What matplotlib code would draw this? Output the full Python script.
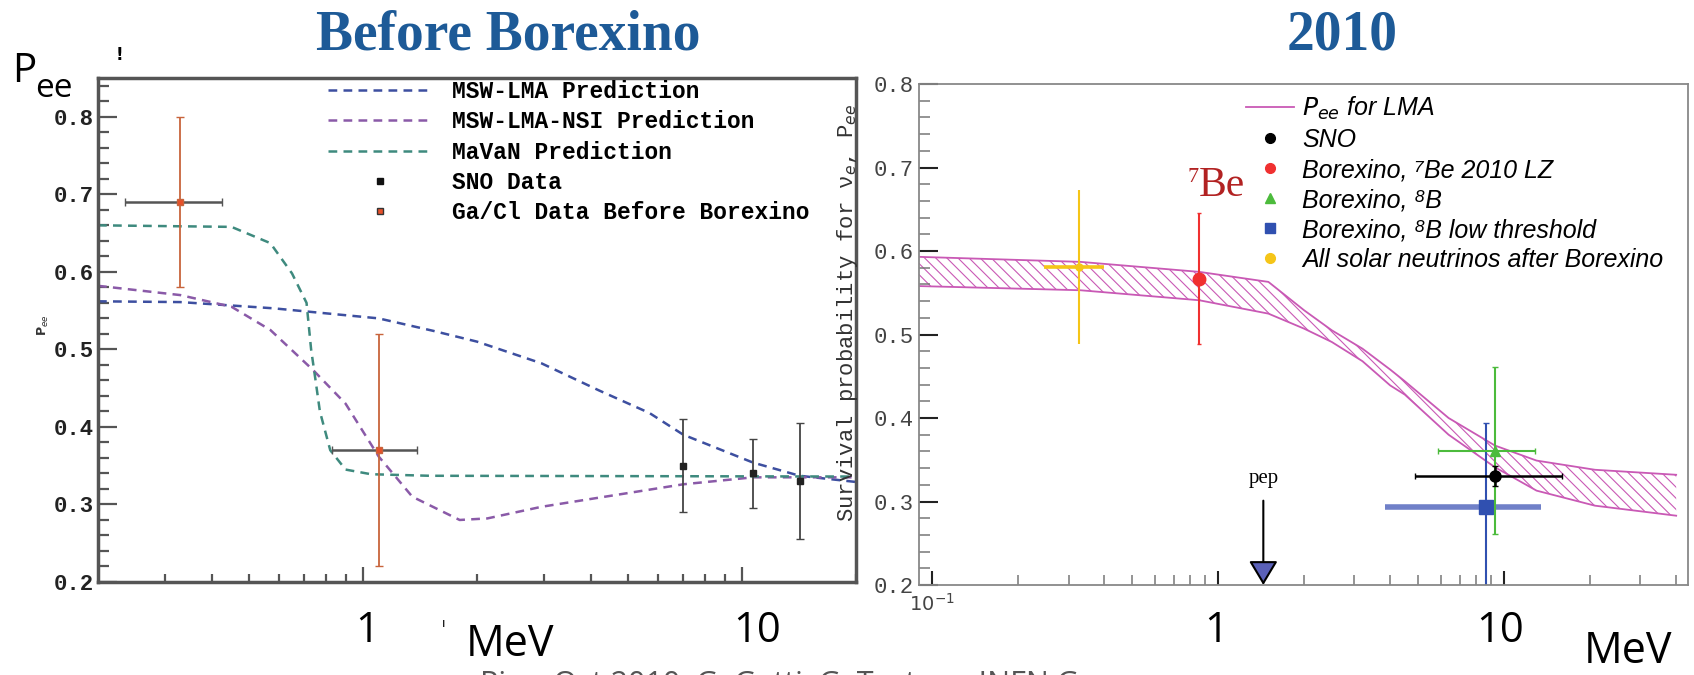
import matplotlib.pyplot as plt
from matplotlib.lines import Line2D
from matplotlib.ticker import FixedLocator, NullFormatter, FixedFormatter

plt.rcParams['hatch.linewidth'] = 0.8
plt.rcParams['hatch.color'] = '#c959b5'

W, H = 1694, 675

# ---- left panel: predictions before Borexino
lma_e = [0.2, 0.33, 0.58, 1.1, 1.53, 2.0, 2.96, 4.2, 5.7, 7.0, 10.7, 14.2, 20]
lma_p = [0.562, 0.561, 0.553, 0.54, 0.524, 0.51, 0.482, 0.447, 0.418, 0.39, 0.354, 0.337, 0.329]
nsi_e = [0.2, 0.33, 0.45, 0.57, 0.74, 0.9, 1.1, 1.35, 1.8, 2.13, 2.96, 4.1, 7.0, 10.7, 20]
nsi_p = [0.582, 0.57, 0.555, 0.525, 0.473, 0.43, 0.362, 0.31, 0.28, 0.282, 0.297, 0.308, 0.326, 0.335, 0.335]
mavan_e = [0.2, 0.45, 0.57, 0.65, 0.71, 0.73, 0.75, 0.77, 0.82, 0.9, 1.05, 1.5, 20]
mavan_p = [0.66, 0.658, 0.637, 0.598, 0.56, 0.5, 0.46, 0.42, 0.37, 0.345, 0.339, 0.337, 0.336]

gacl_e = [0.33, 1.1]
gacl_p = [0.69, 0.37]
gacl_dp = [0.11, 0.15]
gacl_de_lo = [0.095, 0.27]
gacl_de_hi = [0.095, 0.29]

sno_e = [7.0, 10.7, 14.2]
sno_p = [0.35, 0.34, 0.33]
sno_dp_lo = [0.06, 0.045, 0.075]
sno_dp_hi = [0.06, 0.045, 0.075]

left_labels = ['MSW-LMA Prediction', 'MSW-LMA-NSI Prediction', 'MaVaN Prediction',
               'SNO Data', 'Ga/Cl Data Before Borexino']

# ---- right panel: 2010
band_e = [0.09, 0.33, 0.86, 1.5, 2.0, 2.5, 3.2, 4.0, 4.5, 6.4, 9.3, 13, 20.8, 40]
band_hi = [0.593, 0.587, 0.575, 0.563, 0.529, 0.505, 0.483, 0.458, 0.444, 0.40, 0.367, 0.349, 0.338, 0.332]
band_lo = [0.558, 0.553, 0.541, 0.525, 0.507, 0.491, 0.468, 0.439, 0.428, 0.38, 0.341, 0.313, 0.295, 0.283]

all_e, all_p, all_dp, all_de = 0.327, 0.581, 0.092, (0.081, 0.073)
be7_e, be7_p, be7_dp = 0.86, 0.567, 0.078
b8_e, b8_p, b8_dp, b8_de = 9.3, 0.361, 0.10, (3.4, 3.5)
snor_e, snor_p, snor_dp, snor_de = 9.3, 0.331, 0.012, (4.4, 6.7)
b8lt_e, b8lt_p, b8lt_dp, b8lt_de = 8.65, 0.293, (0.12, 0.101), (4.81, 4.85)
pep_e = 1.44

right_labels = ['$P_{ee}$ for LMA', 'SNO', 'Borexino, ⁷Be 2010 LZ', 'Borexino, ⁸B',
                'Borexino, ⁸B low threshold', 'All solar neutrinos after Borexino']


def fx(x):
    return x / W


def fy(y):
    return 1 - y / H


fig = plt.figure(figsize=(W / 100, H / 100), dpi=100)

# left axes
axl = fig.add_axes([fx(98), fy(582), (856 - 98) / W, (582 - 78) / H])
axl.set_xscale('log')
axl.set_xlim(0.2, 20)
axl.set_ylim(0.2, 0.85)

c_lma, c_nsi, c_mav = '#3d4fa0', '#8a5aa8', '#3e8a7e'
dash = (3.5, 2.5)
axl.plot(lma_e, lma_p, color=c_lma, lw=1.8, dashes=dash)
axl.plot(nsi_e, nsi_p, color=c_nsi, lw=1.8, dashes=dash)
axl.plot(mavan_e, mavan_p, color=c_mav, lw=1.8, dashes=dash)

axl.errorbar(gacl_e, gacl_p, xerr=[gacl_de_lo, gacl_de_hi], fmt='none', ecolor='#555555',
             elinewidth=1.8, capsize=3)
axl.errorbar(gacl_e, gacl_p, yerr=gacl_dp, fmt='none', ecolor='#c8643c', elinewidth=1.3, capsize=3)
axl.plot(gacl_e, gacl_p, 's', color='#e8502a', mec='#c8643c', ms=5)
axl.errorbar(sno_e, sno_p, yerr=[sno_dp_lo, sno_dp_hi], fmt='s', color='#222222', ms=5,
             ecolor='#444444', elinewidth=1.3, capsize=3)

for s in axl.spines.values():
    s.set_color('#555555')
    s.set_linewidth(2.5)
axl.xaxis.set_major_locator(FixedLocator([1, 10]))
axl.xaxis.set_minor_locator(FixedLocator([0.3, 0.4, 0.5, 0.6, 0.7, 0.8, 0.9,
                                          2, 3, 4, 5, 6, 7, 8, 9, 20]))
axl.xaxis.set_major_formatter(NullFormatter())
axl.xaxis.set_minor_formatter(NullFormatter())
axl.set_yticks([0.2, 0.3, 0.4, 0.5, 0.6, 0.7, 0.8])
axl.yaxis.set_minor_locator(FixedLocator([0.2 + 0.02 * i for i in range(33)]))
axl.tick_params(axis='both', which='both', direction='in', color='#555555', width=1.6,
                top=False, right=False)
axl.tick_params(axis='y', which='major', length=14, pad=3)
axl.tick_params(axis='y', which='minor', length=8)
axl.tick_params(axis='x', which='major', length=11)
axl.tick_params(axis='x', which='minor', length=6)
for lab in axl.get_yticklabels():
    lab.set_fontfamily('Liberation Mono')
    lab.set_fontweight('bold')
    lab.set_fontsize(16)
    lab.set_color('#222222')

hl = [Line2D([], [], color=c_lma, lw=1.8, dashes=dash),
      Line2D([], [], color=c_nsi, lw=1.8, dashes=dash),
      Line2D([], [], color=c_mav, lw=1.8, dashes=dash),
      Line2D([], [], ls='none', marker='s', color='#111111', ms=5),
      Line2D([], [], ls='none', marker='s', color='#e8502a', mec='#333333', ms=5)]
axl.legend(hl, left_labels, loc='upper left', bbox_to_anchor=(fx(328), fy(80)),
           bbox_transform=fig.transFigure, frameon=False,
           prop=dict(family='Liberation Mono', weight='bold', size=16.5),
           handlelength=4.5, handletextpad=0.9, labelspacing=0.32,
           borderpad=0, borderaxespad=0)

# right axes
axr = fig.add_axes([fx(919), fy(585), (1688 - 919) / W, (585 - 84) / H])
axr.set_xscale('log')
axr.set_xlim(0.09, 44)
axr.set_ylim(0.2, 0.8)

pink = '#c959b5'
axr.fill_between(band_e, band_lo, band_hi, facecolor='none', edgecolor=pink,
                 hatch='\\\\\\', lw=0)
axr.plot(band_e, band_hi, color=pink, lw=1.3)
axr.plot(band_e, band_lo, color=pink, lw=1.3)

axr.errorbar([all_e], [all_p], yerr=all_dp, fmt='none', ecolor='#f5c518', elinewidth=1.5)
axr.errorbar([all_e], [all_p], xerr=[[all_de[0]], [all_de[1]]], fmt='o',
             color='#f5c518', ms=5, elinewidth=2.6)
axr.errorbar([be7_e], [be7_p], yerr=be7_dp, fmt='o', color='#f03030', ms=9,
             elinewidth=1.5, capsize=1.5)
axr.errorbar([b8lt_e], [b8lt_p], yerr=[[b8lt_dp[0]], [b8lt_dp[1]]], fmt='none',
             ecolor='#3050b0', elinewidth=1.5, capsize=2)
axr.errorbar([b8lt_e], [b8lt_p], xerr=[[b8lt_de[0]], [b8lt_de[1]]], fmt='none',
             ecolor='#7080c8', elinewidth=4, capsize=0)
axr.plot([b8lt_e], [b8lt_p], 's', color='#3050b0', ms=10)
axr.errorbar([b8_e], [b8_p], yerr=b8_dp, xerr=[[b8_de[0]], [b8_de[1]]], fmt='^',
             color='#4cbb3c', ms=7, elinewidth=1.5, capsize=2)
axr.errorbar([snor_e], [snor_p], yerr=snor_dp, xerr=[[snor_de[0]], [snor_de[1]]], fmt='o',
             color='black', ms=8, elinewidth=1.8, capsize=2)

axr.annotate('', xy=(pep_e, 0.2), xytext=(pep_e, 0.301),
             arrowprops=dict(arrowstyle='-|>,head_length=0.75,head_width=0.45',
                             fc='#5a60b8', ec='black', lw=1.5, mutation_scale=20,
                             shrinkA=0, shrinkB=0))
axr.text(pep_e, 0.322, 'pep', ha='center', va='baseline', fontsize=15,
         family='Liberation Serif')

for s in axr.spines.values():
    s.set_color('#888888')
    s.set_linewidth(1.3)
axr.xaxis.set_major_locator(FixedLocator([0.1, 1, 10]))
axr.xaxis.set_major_formatter(FixedFormatter(['$10^{-1}$', '', '']))
axr.xaxis.set_minor_locator(FixedLocator([0.2, 0.3, 0.4, 0.5, 0.6, 0.7, 0.8, 0.9,
                                          2, 3, 4, 5, 6, 7, 8, 9, 20, 30, 40]))
axr.xaxis.set_minor_formatter(NullFormatter())
axr.set_yticks([0.2, 0.3, 0.4, 0.5, 0.6, 0.7, 0.8])
axr.yaxis.set_minor_locator(FixedLocator([0.2 + 0.02 * i for i in range(31)]))
axr.tick_params(axis='both', which='both', direction='in', top=False, right=False)
axr.tick_params(axis='y', which='major', length=14, width=1.5, color='#222222', pad=4)
axr.tick_params(axis='y', which='minor', length=8, width=1.1, color='#777777')
axr.tick_params(axis='x', which='major', length=10, width=1.5, color='#222222', pad=6)
axr.tick_params(axis='x', which='minor', length=7, width=1.1, color='#777777')
for lab in axr.get_yticklabels():
    lab.set_fontfamily('Liberation Mono')
    lab.set_fontsize(16)
    lab.set_color('#444444')
for lab in axr.get_xticklabels():
    lab.set_fontsize(14)
    lab.set_color('#444444')

hr = [Line2D([], [], color=pink, lw=1.3),
      Line2D([], [], ls='none', marker='o', color='black', ms=7),
      Line2D([], [], ls='none', marker='o', color='#f03030', ms=7),
      Line2D([], [], ls='none', marker='^', color='#4cbb3c', ms=7),
      Line2D([], [], ls='none', marker='s', color='#3050b0', ms=7),
      Line2D([], [], ls='none', marker='o', color='#f5c518', ms=7)]
axr.legend(hr, right_labels, loc='upper left', bbox_to_anchor=(fx(1246), fy(95)),
           bbox_transform=fig.transFigure, frameon=False,
           prop=dict(family=['Liberation Sans', 'DejaVu Sans'], style='italic', size=18),
           handlelength=1.9, handletextpad=0.35, labelspacing=0.24,
           borderpad=0, borderaxespad=0)

fig.text(fx(847), fy(313), 'Survival probability for ν$_e$, P$_{ee}$', rotation=90,
         ha='center', va='center', family='Liberation Mono', fontsize=16, color='#333333')

# slide overlays
title_c = '#1d5a97'
fig.text(fx(508), fy(50), 'Before Borexino', ha='center', va='baseline', fontsize=40,
         family='Liberation Serif', weight='bold', color=title_c)
fig.text(fx(1342), fy(50), '2010', ha='center', va='baseline', fontsize=40,
         family='Liberation Serif', weight='bold', color=title_c)
fig.text(fx(1199), fy(182), '7', ha='right', va='baseline', fontsize=16,
         family='Liberation Serif', color='#b22222')
fig.text(fx(1199), fy(196), 'Be', ha='left', va='baseline', fontsize=30,
         family='Liberation Serif', color='#b22222')

ov = dict(family='Open Sans', color='black')
fig.text(fx(12), fy(82), 'P', ha='left', va='baseline', fontsize=29, **ov)
fig.text(fx(35), fy(97), 'ee', ha='left', va='baseline', fontsize=24, **ov)
fig.text(fx(367), fy(642), '1', ha='center', va='baseline', fontsize=30, **ov)
fig.text(fx(757), fy(642), '10', ha='center', va='baseline', fontsize=30, **ov)
fig.text(fx(466), fy(656), 'MeV', ha='left', va='baseline', fontsize=31, **ov)
fig.text(fx(1216), fy(642), '1', ha='center', va='baseline', fontsize=30, **ov)
fig.text(fx(1500), fy(642), '10', ha='center', va='baseline', fontsize=30, **ov)
fig.text(fx(1584), fy(663), 'MeV', ha='left', va='baseline', fontsize=31, **ov)
fig.text(fx(480), fy(693), 'Pisa, Oct 2010, G. Gatti, G. Testera, INFN Genova',
         ha='left', va='baseline', fontsize=22, family='Open Sans', color='#555555')

fig.text(fx(119), fy(60), '!', ha='center', va='baseline', fontsize=12, weight='bold')
fig.text(fx(444), fy(627), 'ı', ha='center', va='baseline', fontsize=9)
fig.text(fx(43), fy(325), 'P$_{ee}$', rotation=90, ha='center', va='center', fontsize=9,
         weight='bold', color='#333333')

fig.savefig('out.png', dpi=100)
